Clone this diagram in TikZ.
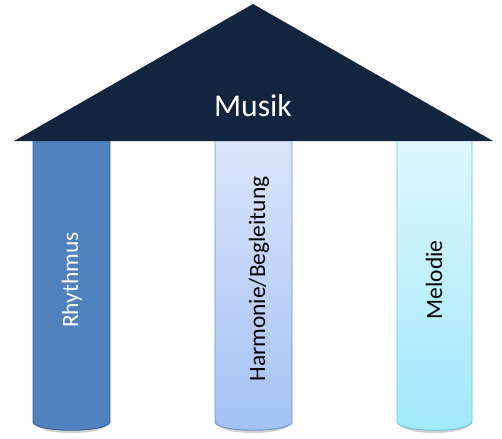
\documentclass[tikz,border=0pt]{standalone}
\usepackage{fontspec}
\setmainfont{Carlito}
\definecolor{roofblue}{HTML}{13243F}
\definecolor{rhyfill}{HTML}{4F81BD}
\definecolor{rhyline}{HTML}{3B6496}
\definecolor{harmtop}{HTML}{DCE6FB}
\definecolor{harmbot}{HTML}{A3C0F5}
\definecolor{harmline}{HTML}{6F93C9}
\definecolor{meltop}{HTML}{DFF7FD}
\definecolor{melbot}{HTML}{A0E9FB}
\definecolor{melline}{HTML}{6EC3D8}

\begin{document}
\begin{tikzpicture}[
  x=0.03cm, y=-0.03cm,
  pillar/.style={line width=0.8pt},
  pillartext/.style={rotate=90, font=\fontsize{20}{24}\selectfont},
  rooftext/.style={text=white, font=\fontsize{27}{32}\selectfont}
]
  \useasboundingbox (0,0) rectangle (502,438);

  % soft shadows under the pillars
  \foreach \xa/\xb in {33/110, 215/292, 397/472}
    \fill[black!18] (\xa+3,424) .. controls (\xa+5,436) and (\xb-5,436) .. (\xb-3,424) -- cycle;

  % pillars
  \draw[pillar, draw=rhyline, fill=rhyfill]
    (33,135) -- (33,422) .. controls (35,433) and (108,433) .. (110,422) -- (110,135) -- cycle;
  \draw[pillar, draw=harmline, top color=harmtop, bottom color=harmbot]
    (215,135) -- (215,422) .. controls (217,433) and (290,433) .. (292,422) -- (292,135) -- cycle;
  \draw[pillar, draw=melline, top color=meltop, bottom color=melbot]
    (397,135) -- (397,422) .. controls (399,433) and (470,433) .. (472,422) -- (472,135) -- cycle;

  % roof
  \fill[roofblue] (14,141) -- (253,4) -- (493,141) -- cycle;

  \node[rooftext] (musik) at (253,106) {Musik};
  \node[pillartext, text=white] (rhythmus) at (72,280) {Rhythmus};
  \node[pillartext] (harmonie) at (259,279) {Harmonie/Begleitung};
  \node[pillartext] (melodie) at (434,280) {Melodie};
\end{tikzpicture}
\end{document}
